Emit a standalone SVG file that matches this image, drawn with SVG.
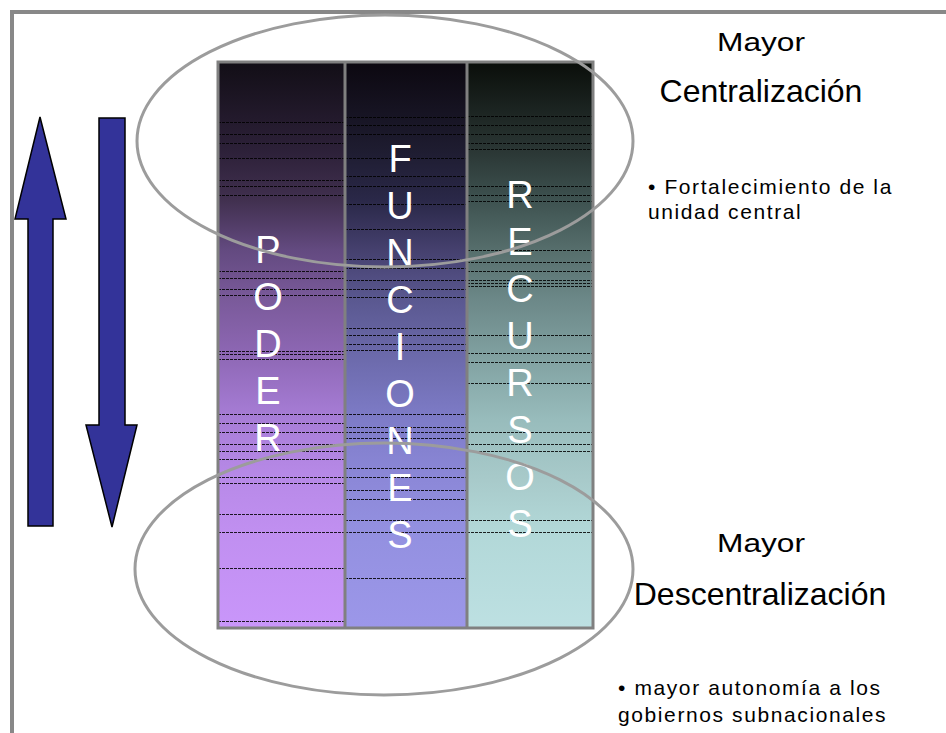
<svg xmlns="http://www.w3.org/2000/svg" width="946" height="733" viewBox="0 0 946 733">
  <defs>
    <style>
      .frame { fill: none; stroke: #888888; stroke-width: 4; }
      .arrow { fill: #333399; stroke: #000000; stroke-width: 1.5; stroke-linejoin: miter; }
      .band { stroke: #000000; stroke-width: 1; stroke-opacity: 0.85; stroke-dasharray: 3 1; }
      .colborder { fill: none; stroke: #808080; stroke-width: 3; }
      .oval { fill: none; stroke: #9c9c9c; stroke-width: 3; }
      .col-letter { font-family: "Liberation Sans", Arial, sans-serif; font-size: 38px; fill: #ffffff; text-anchor: middle; }
      .head-small { font-family: "Liberation Sans", Arial, sans-serif; font-size: 26px; fill: #000000; }
      .head-big { font-family: "Liberation Sans", Arial, sans-serif; font-size: 32px; fill: #000000; text-anchor: middle; }
      .bullet { font-family: "Liberation Sans", Arial, sans-serif; font-size: 21px; fill: #000000; letter-spacing: 1.6px; }
    </style>
    <linearGradient id="gradPoder" gradientUnits="userSpaceOnUse" x1="0" y1="62" x2="0" y2="628">
      <stop offset="0" stop-color="#120e16"/>
      <stop offset="0.155" stop-color="#2c2038"/>
      <stop offset="0.244" stop-color="#41304f"/>
      <stop offset="0.332" stop-color="#634a80"/>
      <stop offset="0.42" stop-color="#7a5a9a"/>
      <stop offset="0.509" stop-color="#8c66b2"/>
      <stop offset="0.633" stop-color="#a87ed8"/>
      <stop offset="0.739" stop-color="#b88ae8"/>
      <stop offset="0.827" stop-color="#c08ff0"/>
      <stop offset="1" stop-color="#c996fa"/>
    </linearGradient>
    <linearGradient id="gradFunciones" gradientUnits="userSpaceOnUse" x1="0" y1="62" x2="0" y2="628">
      <stop offset="0" stop-color="#0c0810"/>
      <stop offset="0.155" stop-color="#1e1c30"/>
      <stop offset="0.244" stop-color="#2a2848"/>
      <stop offset="0.332" stop-color="#45406e"/>
      <stop offset="0.42" stop-color="#5a5890"/>
      <stop offset="0.509" stop-color="#6a68a8"/>
      <stop offset="0.633" stop-color="#7e7cc8"/>
      <stop offset="0.739" stop-color="#8c88d8"/>
      <stop offset="0.827" stop-color="#9390e0"/>
      <stop offset="1" stop-color="#9c97e9"/>
    </linearGradient>
    <linearGradient id="gradRecursos" gradientUnits="userSpaceOnUse" x1="0" y1="62" x2="0" y2="628">
      <stop offset="0" stop-color="#0a0e0a"/>
      <stop offset="0.155" stop-color="#2a3634"/>
      <stop offset="0.244" stop-color="#3e5250"/>
      <stop offset="0.332" stop-color="#566e6c"/>
      <stop offset="0.42" stop-color="#6c8888"/>
      <stop offset="0.509" stop-color="#7e9e9e"/>
      <stop offset="0.633" stop-color="#98bcbc"/>
      <stop offset="0.739" stop-color="#a8caca"/>
      <stop offset="0.827" stop-color="#b2d8d8"/>
      <stop offset="1" stop-color="#bde0e2"/>
    </linearGradient>
  </defs>

  <rect x="0" y="0" width="946" height="733" fill="#ffffff"/>

  <!-- page frame: top and left rules -->
  <g id="frame">
    <path class="frame" d="M12,733 L12,12 L946,12"/>
  </g>

  <!-- vertical block arrows -->
  <g id="arrows">
    <path id="arrow-up" class="arrow" d="M40,117 L66,219 L53,219 L53,526 L28,526 L28,219 L15,219 Z"/>
    <path id="arrow-down" class="arrow" d="M99,118 L125,118 L125,425 L137,425 L112,527 L86,425 L99,425 Z"/>
  </g>

  <!-- PODER column -->
  <g id="column-poder">
    <rect x="218" y="62" width="127" height="566" fill="url(#gradPoder)"/>
    <g class="band">
      <line x1="218" x2="345" y1="122.5" y2="122.5"/>
      <line x1="218" x2="345" y1="134.5" y2="134.5"/>
      <line x1="218" x2="345" y1="143.5" y2="143.5"/>
      <line x1="218" x2="345" y1="158.5" y2="158.5"/>
      <line x1="218" x2="345" y1="180.5" y2="180.5"/>
      <line x1="218" x2="345" y1="186.5" y2="186.5"/>
      <line x1="218" x2="345" y1="195.5" y2="195.5"/>
      <line x1="218" x2="345" y1="271.5" y2="271.5"/>
      <line x1="218" x2="345" y1="278.5" y2="278.5"/>
      <line x1="218" x2="345" y1="289.5" y2="289.5"/>
      <line x1="218" x2="345" y1="295.5" y2="295.5"/>
      <line x1="218" x2="345" y1="351.5" y2="351.5"/>
      <line x1="218" x2="345" y1="354.5" y2="354.5"/>
      <line x1="218" x2="345" y1="359.5" y2="359.5"/>
      <line x1="218" x2="345" y1="414.5" y2="414.5"/>
      <line x1="218" x2="345" y1="423.5" y2="423.5"/>
      <line x1="218" x2="345" y1="432.5" y2="432.5"/>
      <line x1="218" x2="345" y1="444.5" y2="444.5"/>
      <line x1="218" x2="345" y1="451.5" y2="451.5"/>
      <line x1="218" x2="345" y1="459.5" y2="459.5"/>
      <line x1="218" x2="345" y1="477.5" y2="477.5"/>
      <line x1="218" x2="345" y1="483.5" y2="483.5"/>
      <line x1="218" x2="345" y1="514.5" y2="514.5"/>
      <line x1="218" x2="345" y1="532.5" y2="532.5"/>
      <line x1="218" x2="345" y1="568.5" y2="568.5"/>
      <line x1="218" x2="345" y1="621.5" y2="621.5"/>
    </g>
    <text class="col-letter" x="268" y="263">P</text>
    <text class="col-letter" x="268" y="310">O</text>
    <text class="col-letter" x="268" y="357">D</text>
    <text class="col-letter" x="268" y="404">E</text>
    <text class="col-letter" x="268" y="451">R</text>
  </g>

  <!-- FUNCIONES column -->
  <g id="column-funciones">
    <rect x="345" y="62" width="122" height="566" fill="url(#gradFunciones)"/>
    <g class="band">
      <line x1="345" x2="467" y1="117.5" y2="117.5"/>
      <line x1="345" x2="467" y1="125.5" y2="125.5"/>
      <line x1="345" x2="467" y1="134.5" y2="134.5"/>
      <line x1="345" x2="467" y1="158.5" y2="158.5"/>
      <line x1="345" x2="467" y1="176.5" y2="176.5"/>
      <line x1="345" x2="467" y1="186.5" y2="186.5"/>
      <line x1="345" x2="467" y1="204.5" y2="204.5"/>
      <line x1="345" x2="467" y1="229.5" y2="229.5"/>
      <line x1="345" x2="467" y1="259.5" y2="259.5"/>
      <line x1="345" x2="467" y1="268.5" y2="268.5"/>
      <line x1="345" x2="467" y1="280.5" y2="280.5"/>
      <line x1="345" x2="467" y1="289.5" y2="289.5"/>
      <line x1="345" x2="467" y1="297.5" y2="297.5"/>
      <line x1="345" x2="467" y1="328.5" y2="328.5"/>
      <line x1="345" x2="467" y1="335.5" y2="335.5"/>
      <line x1="345" x2="467" y1="344.5" y2="344.5"/>
      <line x1="345" x2="467" y1="350.5" y2="350.5"/>
      <line x1="345" x2="467" y1="414.5" y2="414.5"/>
      <line x1="345" x2="467" y1="427.5" y2="427.5"/>
      <line x1="345" x2="467" y1="432.5" y2="432.5"/>
      <line x1="345" x2="467" y1="438.5" y2="438.5"/>
      <line x1="345" x2="467" y1="468.5" y2="468.5"/>
      <line x1="345" x2="467" y1="477.5" y2="477.5"/>
      <line x1="345" x2="467" y1="490.5" y2="490.5"/>
      <line x1="345" x2="467" y1="499.5" y2="499.5"/>
      <line x1="345" x2="467" y1="520.5" y2="520.5"/>
      <line x1="345" x2="467" y1="532.5" y2="532.5"/>
      <line x1="345" x2="467" y1="578.5" y2="578.5"/>
    </g>
    <text class="col-letter" x="400" y="172">F</text>
    <text class="col-letter" x="400" y="219">U</text>
    <text class="col-letter" x="400" y="266">N</text>
    <text class="col-letter" x="400" y="313">C</text>
    <text class="col-letter" x="400" y="360">I</text>
    <text class="col-letter" x="400" y="407">O</text>
    <text class="col-letter" x="400" y="454">N</text>
    <text class="col-letter" x="400" y="501">E</text>
    <text class="col-letter" x="400" y="548">S</text>
  </g>

  <!-- RECURSOS column -->
  <g id="column-recursos">
    <rect x="467" y="62" width="126" height="566" fill="url(#gradRecursos)"/>
    <g class="band">
      <line x1="467" x2="593" y1="116.5" y2="116.5"/>
      <line x1="467" x2="593" y1="125.5" y2="125.5"/>
      <line x1="467" x2="593" y1="134.5" y2="134.5"/>
      <line x1="467" x2="593" y1="143.5" y2="143.5"/>
      <line x1="467" x2="593" y1="149.5" y2="149.5"/>
      <line x1="467" x2="593" y1="186.5" y2="186.5"/>
      <line x1="467" x2="593" y1="195.5" y2="195.5"/>
      <line x1="467" x2="593" y1="201.5" y2="201.5"/>
      <line x1="467" x2="593" y1="250.5" y2="250.5"/>
      <line x1="467" x2="593" y1="262.5" y2="262.5"/>
      <line x1="467" x2="593" y1="271.5" y2="271.5"/>
      <line x1="467" x2="593" y1="280.5" y2="280.5"/>
      <line x1="467" x2="593" y1="283.5" y2="283.5"/>
      <line x1="467" x2="593" y1="286.5" y2="286.5"/>
      <line x1="467" x2="593" y1="335.5" y2="335.5"/>
      <line x1="467" x2="593" y1="353.5" y2="353.5"/>
      <line x1="467" x2="593" y1="362.5" y2="362.5"/>
      <line x1="467" x2="593" y1="383.5" y2="383.5"/>
      <line x1="467" x2="593" y1="432.5" y2="432.5"/>
      <line x1="467" x2="593" y1="444.5" y2="444.5"/>
      <line x1="467" x2="593" y1="451.5" y2="451.5"/>
      <line x1="467" x2="593" y1="520.5" y2="520.5"/>
      <line x1="467" x2="593" y1="532.5" y2="532.5"/>
    </g>
    <text class="col-letter" x="520" y="208">R</text>
    <text class="col-letter" x="520" y="255">E</text>
    <text class="col-letter" x="520" y="302">C</text>
    <text class="col-letter" x="520" y="349">U</text>
    <text class="col-letter" x="520" y="396">R</text>
    <text class="col-letter" x="520" y="443">S</text>
    <text class="col-letter" x="520" y="490">O</text>
    <text class="col-letter" x="520" y="537">S</text>
  </g>

  <!-- column outlines -->
  <g id="column-borders">
    <rect class="colborder" x="218" y="62" width="375" height="566"/>
    <line class="colborder" x1="345" y1="62" x2="345" y2="628"/>
    <line class="colborder" x1="467" y1="62" x2="467" y2="628"/>
  </g>

  <!-- highlight ovals -->
  <g id="oval-top">
    <ellipse class="oval" cx="385" cy="141" rx="248" ry="126"/>
  </g>
  <g id="oval-bottom">
    <ellipse class="oval" cx="384" cy="569" rx="249" ry="126"/>
  </g>

  <!-- right-hand captions -->
  <g id="label-centralizacion">
    <text class="head-small" x="717" y="51" textLength="88" lengthAdjust="spacingAndGlyphs">Mayor</text>
    <text class="head-big" x="761" y="102">Centralización</text>
    <text class="bullet" x="648" y="194">• Fortalecimiento de la</text>
    <text class="bullet" x="648" y="219">unidad central</text>
  </g>
  <g id="label-descentralizacion">
    <text class="head-small" x="717" y="552" textLength="88" lengthAdjust="spacingAndGlyphs">Mayor</text>
    <text class="head-big" x="760" y="605">Descentralización</text>
    <text class="bullet" x="618" y="695">• mayor autonomía a los</text>
    <text class="bullet" x="618" y="722">gobiernos subnacionales</text>
  </g>
</svg>
